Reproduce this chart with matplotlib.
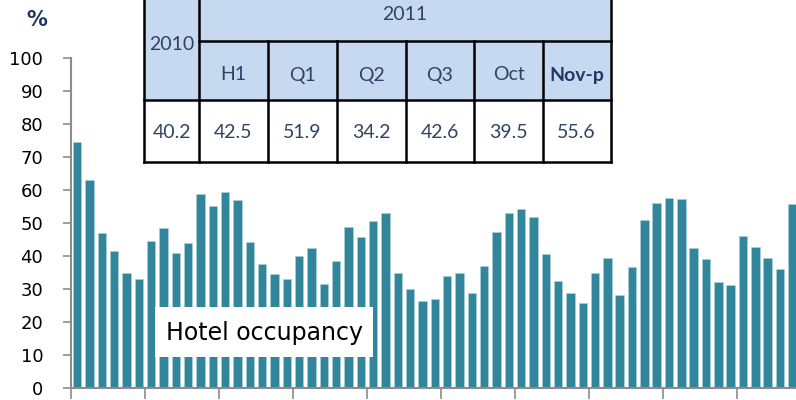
import matplotlib
matplotlib.use("Agg")
import matplotlib.pyplot as plt
from matplotlib.patches import Rectangle

# ---- data ----
occupancy = [74.4, 62.9, 46.9, 41.5, 34.7, 33.0, 44.6, 48.4, 41.0, 43.9, 58.7, 55.0,
             59.3, 57.0, 44.3, 37.7, 34.5, 32.9, 39.9, 42.3, 31.5, 38.4, 48.7, 45.7,
             50.5, 53.0, 34.8, 29.9, 26.3, 27.1, 33.8, 34.7, 28.9, 37.0, 47.4, 53.1,
             54.1, 51.8, 40.5, 32.4, 28.7, 25.9, 35.0, 39.5, 28.2, 36.7, 50.8, 56.2,
             57.5, 57.3, 42.4, 39.0, 32.2, 31.1, 46.0, 42.7, 39.5, 36.2, 55.8]
yticks = [0, 10, 20, 30, 40, 50, 60, 70, 80, 90, 100]
series_label = "Hotel occupancy"
unit_label = "%"
table_year_a = "2010"
table_year_b = "2011"
table_sub = ["H1", "Q1", "Q2", "Q3", "Oct", "Nov-p"]
table_vals = ["40.2", "42.5", "51.9", "34.2", "42.6", "39.5", "55.6"]

W, H = 796, 400
fig = plt.figure(figsize=(W / 100, H / 100), dpi=100)
fig.patch.set_facecolor("white")

slot = 12.33
ax = fig.add_axes([71 / W, 12 / H, (W - 71) / W, 330 / H])
xs = [i + 0.5 for i in range(len(occupancy))]
ax.bar(xs, occupancy, width=0.68, color="#31869B", edgecolor="#a9d0da", linewidth=0.5)
ax.set_xlim(0, (W - 71) / slot)
ax.set_ylim(0, 100)
ax.set_yticks(yticks)
ax.set_xticks(list(range(0, len(occupancy), 6)))
ax.set_xticklabels([])
ax.tick_params(axis="x", direction="out", length=8, width=1.2, color="#8c8c8c")
ax.tick_params(axis="y", direction="out", length=6, width=1.2, color="#8c8c8c",
               labelsize=13, pad=14, labelcolor="black")
for s in ["top", "right"]:
    ax.spines[s].set_visible(False)
for s in ["left", "bottom"]:
    ax.spines[s].set_color("#8c8c8c")
    ax.spines[s].set_linewidth(1.5)

# overlay in pixel coordinates
ov = fig.add_axes([0, 0, 1, 1], facecolor="none")
ov.set_xlim(0, W)
ov.set_ylim(H, 0)
ov.axis("off")

ov.text(37, 20, unit_label, color="#1F3864", fontsize=15, fontweight="bold",
        ha="center", va="center")

# series label box
ov.add_patch(Rectangle((155, 307), 218, 50, facecolor="white", edgecolor="none"))
ov.text(264, 333, series_label, fontsize=17, color="black", ha="center", va="center")

# table
cols = [144, 199.3, 267.7, 336.7, 405.7, 474.3, 542.7, 610.7]
rows = [-10, 40.7, 100, 161.7]
hdr = "#C6D9F0"
tc = "#2E4365"
lw = 1.8
tfont = ["Lato", "DejaVu Sans"]
ov.add_patch(Rectangle((cols[0], rows[0]), cols[-1] - cols[0], rows[2] - rows[0],
                       facecolor=hdr, edgecolor="none"))
ov.add_patch(Rectangle((cols[0], rows[2]), cols[-1] - cols[0], rows[3] - rows[2],
                       facecolor="white", edgecolor="none"))
ov.plot([cols[0], cols[-1]], [rows[2], rows[2]], color="black", lw=lw)
ov.plot([cols[0], cols[-1]], [rows[3], rows[3]], color="black", lw=lw)
ov.plot([cols[1], cols[-1]], [rows[1], rows[1]], color="black", lw=lw)
ov.plot([cols[0], cols[0]], [rows[0], rows[3]], color="black", lw=lw)
ov.plot([cols[1], cols[1]], [rows[0], rows[3]], color="black", lw=lw)
ov.plot([cols[-1], cols[-1]], [rows[0], rows[3]], color="black", lw=lw)
for c in cols[2:-1]:
    ov.plot([c, c], [rows[1], rows[3]], color="black", lw=lw)

ov.text((cols[0] + cols[1]) / 2, 45, table_year_a, fontsize=14, color=tc,
        ha="center", va="center", family=tfont)
ov.text((cols[1] + cols[-1]) / 2, 15, table_year_b, fontsize=14, color=tc,
        ha="center", va="center", family=tfont)
for i, lab in enumerate(table_sub):
    bold = lab.endswith("-p")
    ov.text((cols[i + 1] + cols[i + 2]) / 2, 75, lab, fontsize=14,
            color="#1F3864" if bold else tc,
            fontweight="bold" if bold else "normal",
            ha="center", va="center", family=tfont)
for i, v in enumerate(table_vals):
    ov.text((cols[i] + cols[i + 1]) / 2, 132, v, fontsize=14, color=tc,
            ha="center", va="center", family=tfont)

fig.savefig("out.png", dpi=100)
